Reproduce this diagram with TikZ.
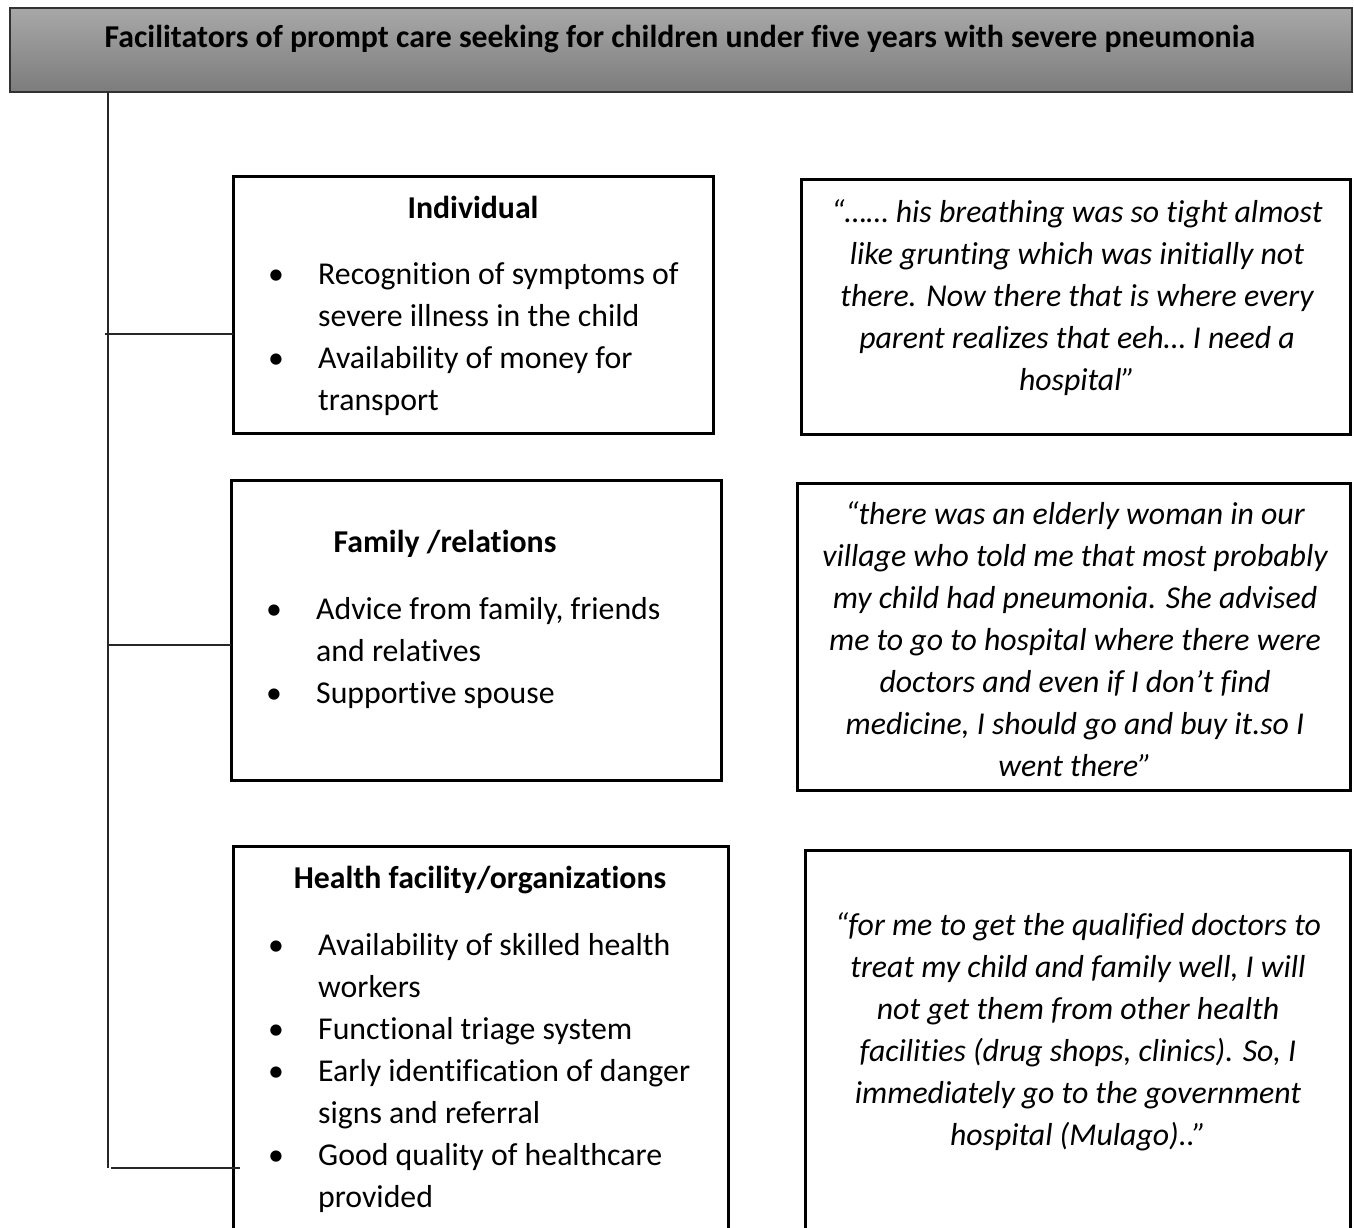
\documentclass[tikz,border=0pt]{standalone}
\usepackage{fontspec}
\setmainfont{Carlito}[Ligatures=NoCommon]
\usetikzlibrary{positioning}
\definecolor{headtop}{RGB}{168,168,168}
\definecolor{headbot}{RGB}{124,124,124}
\definecolor{headedge}{RGB}{50,50,50}
\newcommand{\itm}{\makebox[50pt][l]{\textbullet}}

\begin{document}
\begin{tikzpicture}[x=1pt,y=-1pt,
    box/.style={draw=black,line width=3pt,anchor=north west,inner sep=0pt,outer sep=0pt},
    body/.style={inner sep=0pt,font=\fontsize{31.8}{42}\selectfont},
    title/.style={body,anchor=base,font=\fontsize{31.8}{42}\selectfont\bfseries},
    link/.style={draw=black!85,line width=1.6pt}]
    \clip (0,0) rectangle (1354,1228);
    % heading bar
    \node[anchor=north west,minimum width=1342pt,minimum height=84pt,inner sep=0pt,outer sep=0pt,
          draw=headedge,line width=1.5pt,top color=headtop,bottom color=headbot] (head) at (10,8) {};
    \node[title] (htxt) at (680,48) {Facilitators of prompt care seeking for children under five years with severe pneumonia};

    % levels
    \node[box,minimum width=480pt,minimum height=257pt] (ind) at (233,176) {};
    \node[box,minimum width=490pt,minimum height=300pt] (fam) at (231,480) {};
    \node[box,minimum width=495pt,minimum height=420pt] (hf) at (233,846) {};

    \node[title] (indt) at (473,218) {Individual};
    \node[title] (famt) at (445,552) {Family /relations};
    \node[title] (hft) at (480,888) {Health facility/organizations};

    \node[body,anchor=base west] (indl) at (268,284) {\begin{tabular}[t]{@{}l@{}l@{}}
        \itm & Recognition of symptoms of\\
             & severe illness in the child\\
        \itm & Availability of money for\\
             & transport
    \end{tabular}};
    \node[body,anchor=base west] (faml) at (266,619) {\begin{tabular}[t]{@{}l@{}l@{}}
        \itm & Advice from family, friends\\
             & and relatives\\
        \itm & Supportive spouse
    \end{tabular}};
    \node[body,anchor=base west] (hfl) at (268,955) {\begin{tabular}[t]{@{}l@{}l@{}}
        \itm & Availability of skilled health\\
             & workers\\
        \itm & Functional triage system\\
        \itm & Early identification of danger\\
             & signs and referral\\
        \itm & Good quality of healthcare\\
             & provided
    \end{tabular}};

    % quotes
    \node[box,minimum width=549pt,minimum height=255pt,right=88pt of ind.north east,anchor=north west,yshift=-3pt] (q1) {};
    \node[box,minimum width=553pt,minimum height=307pt,right=76pt of fam.north east,anchor=north west,yshift=-3pt] (q2) {};
    \node[box,minimum width=545pt,minimum height=420pt,right=77pt of hf.north east,anchor=north west,yshift=-4pt] (q3) {};

    \node[body,anchor=base,font=\fontsize{31.8}{42}\selectfont\itshape] (q1t) at (1077,222) {\begin{tabular}[t]{@{}c@{}}
        “…… his breathing was so tight almost\\
        like grunting which was initially not\\
        there. Now there that is where every\\
        parent realizes that eeh… I need a\\
        hospital”
    \end{tabular}};
    \node[body,anchor=base,font=\fontsize{31.8}{42}\selectfont\itshape] (q2t) at (1075,524) {\begin{tabular}[t]{@{}c@{}}
        “there was an elderly woman in our\\
        village who told me that most probably\\
        my child had pneumonia. She advised\\
        me to go to hospital where there were\\
        doctors and even if I don’t find\\
        medicine, I should go and buy it.so I\\
        went there”
    \end{tabular}};
    \node[body,anchor=base,font=\fontsize{31.8}{42}\selectfont\itshape] (q3t) at (1078,935) {\begin{tabular}[t]{@{}c@{}}
        “for me to get the qualified doctors to\\
        treat my child and family well, I will\\
        not get them from other health\\
        facilities (drug shops, clinics). So, I\\
        immediately go to the government\\
        hospital (Mulago)..”
    \end{tabular}};

    % tree lines
    \coordinate (t1) at (105,334);
    \coordinate (t2) at (108,645);
    \coordinate (t3) at (111,1168);
    \coordinate (root) at (head.south -| t2);
    \draw[link] (root) -- (root |- t3);
    \draw[link] (t1) -- (t1 -| ind.west);
    \draw[link] (t2) -- (t2 -| fam.west);
    \draw[link] (t3) -- ([xshift=7pt]t3 -| hf.west);
\end{tikzpicture}
\end{document}
